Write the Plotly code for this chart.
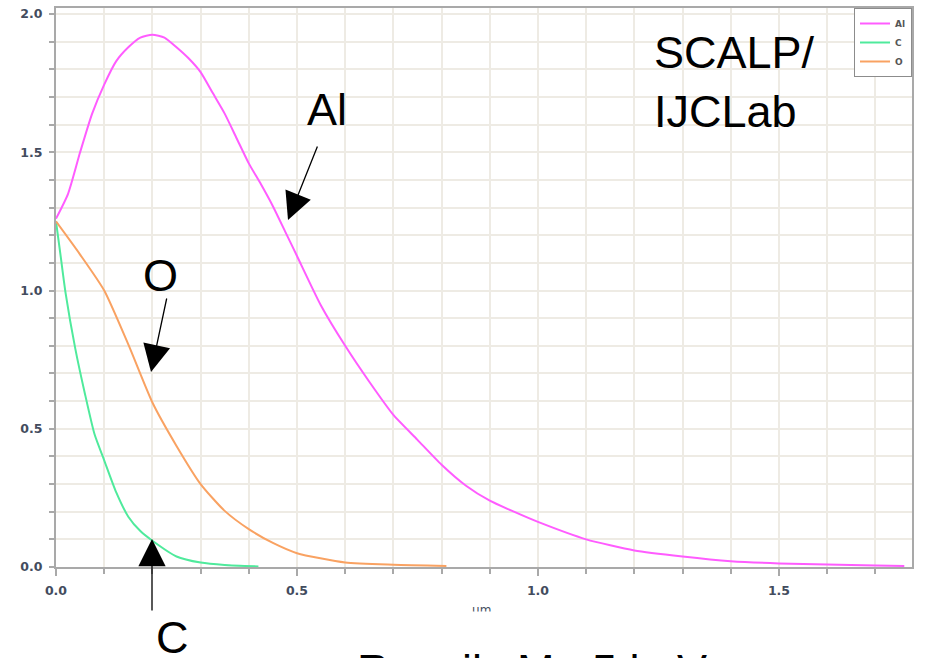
import plotly.graph_objects as go

# ---- data ----
al_x = [0, 0.025, 0.05, 0.075, 0.1, 0.125, 0.15, 0.175, 0.2, 0.225, 0.25, 0.275, 0.3, 0.325,
        0.35, 0.375, 0.4, 0.425, 0.45, 0.475, 0.5, 0.55, 0.6, 0.65, 0.7, 0.75, 0.8, 0.85,
        0.9, 0.95, 1.0, 1.1, 1.2, 1.3, 1.4, 1.5, 1.6, 1.7, 1.76]
al_y = [1.26, 1.35, 1.50, 1.64, 1.745, 1.83, 1.88, 1.915, 1.925, 1.915, 1.88, 1.84, 1.79,
        1.715, 1.64, 1.55, 1.46, 1.385, 1.305, 1.215, 1.125, 0.945, 0.80, 0.67, 0.55, 0.46,
        0.37, 0.295, 0.24, 0.20, 0.163, 0.10, 0.06, 0.038, 0.021, 0.013, 0.009, 0.005, 0.004]

c_x = [0, 0.01, 0.02, 0.04, 0.06, 0.08, 0.1, 0.125, 0.15, 0.175, 0.2, 0.25, 0.3, 0.35, 0.42]
c_y = [1.25, 1.12, 0.99, 0.79, 0.627, 0.48, 0.386, 0.27, 0.182, 0.13, 0.095, 0.038, 0.016,
       0.007, 0.002]

o_x = [0, 0.05, 0.1, 0.15, 0.2, 0.25, 0.3, 0.35, 0.4, 0.45, 0.5, 0.6, 0.7, 0.81]
o_y = [1.25, 1.13, 1.00, 0.805, 0.595, 0.438, 0.30, 0.203, 0.137, 0.087, 0.05, 0.016,
       0.008, 0.004]

series_names = ["Al", "C", "O"]
series_colors = ["#ff5cff", "#4fea9c", "#f9a262"]

x_ticks = [0.0, 0.5, 1.0, 1.5]
y_ticks = [0.0, 0.5, 1.0, 1.5, 2.0]

# ---- layout geometry (pixels) ----
W, H = 925, 658
L, R, T, B = 56, 912, 8, 567


def px(xpix):
    return (xpix - L) / (R - L)


def py(ypix):
    return (B - ypix) / (B - T)


fig = go.Figure()
for xs, ys, name, col in zip([al_x, c_x, o_x], [al_y, c_y, o_y], series_names, series_colors):
    fig.add_trace(go.Scatter(x=xs, y=ys, mode="lines", name=name,
                             line=dict(color=col, width=2, shape="spline", smoothing=0.6)))

tick_font = dict(family="DejaVu Sans", size=12.5, color="#434c5e", weight="bold")
grid_col = "#eeebe4"
axis_col = "#a9a9a9"

common = dict(
    tickmode="array", showgrid=True, gridcolor=grid_col, gridwidth=1.5,
    tickcolor=axis_col, tickwidth=1.5, ticks="outside",
    showline=True, linecolor=axis_col, linewidth=2, mirror=True,
    zeroline=False, tickfont=tick_font, ticklabelstandoff=4, automargin=False,
)
fig.update_xaxes(
    range=[0, 1.776], tickvals=x_ticks, ticktext=[f"{v:.1f}" for v in x_ticks],
    minor=dict(dtick=0.1, tick0=0, showgrid=True, gridcolor=grid_col, gridwidth=1.5,
               ticks="outside", ticklen=5, tickcolor=axis_col, tickwidth=1.5),
    ticklen=7, **common,
)
fig.update_yaxes(
    range=[0, 2.022], tickvals=y_ticks, ticktext=[f"{v:.1f}" for v in y_ticks],
    minor=dict(dtick=0.1, tick0=0, showgrid=True, gridcolor=grid_col, gridwidth=1.5,
               ticks="outside", ticklen=5, tickcolor=axis_col, tickwidth=1.5),
    ticklen=5, **common,
)

big = dict(family="Liberation Sans, Arial, sans-serif", size=45, color="#000000")
ann = []
# labels
ann.append(dict(text="Al", x=px(327), y=py(110), xref="paper", yref="paper",
                showarrow=False, font=big, xanchor="center", yanchor="middle"))
ann.append(dict(text="O", x=px(160), y=py(275), xref="paper", yref="paper",
                showarrow=False, font=big, xanchor="center", yanchor="middle"))
ann.append(dict(text="C", x=px(172), y=py(637), xref="paper", yref="paper",
                showarrow=False, font=big, xanchor="center", yanchor="middle"))
ann.append(dict(text="SCALP/<br>IJCLab", x=px(652), y=py(82), xref="paper", yref="paper",
                showarrow=False, font=big, xanchor="left", yanchor="middle", align="left"))
# arrows (tip at the curve, tail offset in pixels)
arrow_style = dict(showarrow=True, arrowhead=2, arrowsize=4.2, arrowwidth=1.3,
                   arrowcolor="#000000", text="", standoff=0)
ann.append(dict(x=px(288), y=py(220), xref="paper", yref="paper", ax=30, ay=-75, **arrow_style))
ann.append(dict(x=px(151), y=py(372), xref="paper", yref="paper", ax=16, ay=-75, **arrow_style))
ann.append(dict(x=px(152), y=py(539), xref="paper", yref="paper", ax=0, ay=73, **arrow_style))
# x-axis unit (partly hidden in the reference)
ann.append(dict(text="µm", x=px(481), y=py(601), xref="paper", yref="paper",
                showarrow=False, xanchor="center", yanchor="top",
                font=dict(family="DejaVu Sans", size=12, color="#434c5e")))
ann.append(dict(text=" ", x=px(481), y=py(611), xref="paper", yref="paper",
                showarrow=False, xanchor="center", yanchor="top",
                width=40, height=20, bgcolor="#ffffff"))
# caption at the bottom, cut by the page edge as in the reference
ann.append(dict(text="Recoils Mg 5 keV", x=px(355), y=py(643), xref="paper", yref="paper",
                showarrow=False, xanchor="left", yanchor="top", font=big))

fig.update_layout(
    width=W, height=H,
    margin=dict(l=L, r=W - R, t=T, b=H - B, pad=0),
    paper_bgcolor="#ffffff", plot_bgcolor="#ffffff",
    showlegend=True,
    legend=dict(x=1, y=1, xanchor="right", yanchor="top",
                bgcolor="#ffffff", bordercolor="#8c8c8c", borderwidth=1,
                font=dict(family="DejaVu Sans", size=9, color="#555555", weight="bold"),
                tracegroupgap=0),
    annotations=ann,
)

fig.write_html("out.html", config={"displayModeBar": False},
               post_script="document.body.style.margin='0';document.body.style.overflow='hidden';")
